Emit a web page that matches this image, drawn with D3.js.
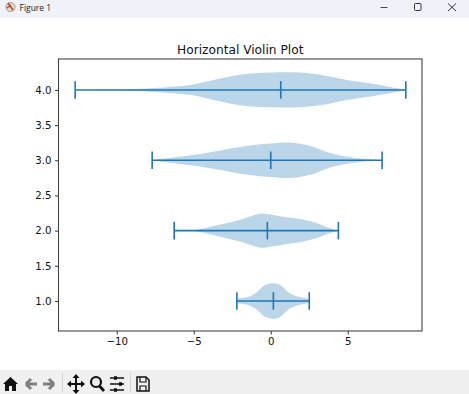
<!DOCTYPE html>
<html lang="en">
  <head>
    <meta charset="utf-8">
    <title>Horizontal Violin Plot</title>
    <style>
      html, body { margin: 0; padding: 0; background: #fff; overflow: hidden; }
      svg { display: block; }
    </style>
  </head>
  <body>
    <div id="chart-area"></div>
    <script src="https://cdn.jsdelivr.net/npm/d3@7"></script>
    <script>
      const positions = [1, 2, 3, 4];
      const medians = [0.17, -0.22, 0.0, 0.65];
      const mins = [-2.2, -6.27, -7.7, -12.7];
      const maxs = [2.5, 4.39, 7.23, 8.77];

      // value along x / relative width (1 = widest part) of each violin
      const values_1 = [-2.2, -1.5, -0.9, -0.45, 0.0, 0.3, 0.6, 1.2, 1.9, 2.5];
      const widths_1 = [0.14, 0.22, 0.5, 0.86, 1.0, 1.0, 0.92, 0.46, 0.22, 0.11];
      const values_2 = [-6.27, -5.0, -3.5, -2.0, -1.0, -0.6, 0.15, 1.05, 1.9, 3.0, 3.85, 4.39];
      const widths_2 = [0.0, 0.02, 0.3, 0.62, 0.9, 0.98, 0.89, 0.76, 0.66, 0.42, 0.13, 0.0];
      const values_3 = [-7.7, -7.3, -4.6, -2.0, 0.0, 1.45, 2.8, 3.85, 5.4, 7.23];
      const widths_3 = [0.0, 0.06, 0.36, 0.76, 0.95, 1.0, 0.76, 0.41, 0.14, 0.0];
      const values_4 = [-12.7, -9.46, -7.5, -5.24, -4.27, -2.0, 0.0, 1.45, 3.2, 4.95, 6.45, 7.75, 8.77];
      const widths_4 = [0.0, 0.03, 0.11, 0.28, 0.46, 0.87, 0.99, 1.0, 0.87, 0.57, 0.38, 0.17, 0.01];
      const all_values = [values_1, values_2, values_3, values_4];
      const all_widths = [widths_1, widths_2, widths_3, widths_4];

      const x_ticks = [-10, -5, 0, 5];
      const y_ticks = [1.0, 1.5, 2.0, 2.5, 3.0, 3.5, 4.0];
      const title_text = 'Horizontal Violin Plot';

      const svg_width = 469;
      const svg_height = 394;
      const ax_left = 58.5, ax_right = 422, ax_top = 59, ax_bottom = 331;
      const blue = '#1f77b4';
      const font = '"DejaVu Sans", sans-serif';

      const svg = d3.select('#chart-area')
        .append('svg')
        .attr('width', svg_width)
        .attr('height', svg_height);

      // window title bar
      svg.append('rect').attr('width', svg_width).attr('height', 18).attr('fill', '#eff3f9');
      svg.append('circle').attr('cx', 10.5).attr('cy', 7).attr('r', 4.5).attr('fill', '#e9dcc8').attr('stroke', '#999');
      svg.append('path').attr('d', 'M8 3L13 10M7 8L11 5').attr('stroke', '#b5482c').attr('stroke-width', 1.5);
      svg.append('text').text('Figure 1').attr('x', 19.5).attr('y', 10.5)
        .attr('font-family', '"Open Sans", sans-serif').attr('font-size', 8.5).attr('fill', '#222');
      svg.append('path').attr('d', 'M380.5 7.5H387.5').attr('stroke', '#444').attr('fill', 'none');
      svg.append('rect').attr('x', 414.5).attr('y', 3.5).attr('width', 6.5).attr('height', 7).attr('rx', 1)
        .attr('stroke', '#333').attr('fill', 'none');
      svg.append('path').attr('d', 'M448 3.5L456 11M456 3.5L448 11').attr('stroke', '#333').attr('fill', 'none');

      // toolbar
      svg.append('rect').attr('y', 370).attr('width', svg_width).attr('height', 24).attr('fill', '#f0f0f0');
      const tb = svg.append('g');
      tb.append('path').attr('d', 'M3 384L10.5 377L18 384L16 384L16 391L12 391L12 386L9 386L9 391L5 391L5 384Z').attr('fill', '#111');
      tb.append('path').attr('d', 'M26 384L31 379M26 384L31 389M26 384L37 384').attr('stroke', '#808080').attr('stroke-width', 3).attr('fill', 'none');
      tb.append('path').attr('d', 'M54 384L49 379M54 384L49 389M54 384L43 384').attr('stroke', '#808080').attr('stroke-width', 3).attr('fill', 'none');
      tb.append('path').attr('d', 'M76 376V392M68 384H84').attr('stroke', '#111').attr('stroke-width', 2).attr('fill', 'none');
      tb.append('path').attr('d', 'M76 374L72.5 378H79.5ZM76 394L72.5 390H79.5ZM67 384L71 380.5V387.5ZM85 384L81 380.5V387.5Z').attr('fill', '#111');
      tb.append('circle').attr('cx', 96).attr('cy', 382).attr('r', 5).attr('stroke', '#111').attr('stroke-width', 2.2).attr('fill', 'none');
      tb.append('path').attr('d', 'M99.5 386L104 391').attr('stroke', '#111').attr('stroke-width', 2.8);
      tb.append('path').attr('d', 'M110 378H124M110 384H124M110 390H124').attr('stroke', '#111').attr('stroke-width', 1.3);
      tb.append('path').attr('d', 'M114 378h3M119 384h3M114 390h3').attr('stroke', '#111').attr('stroke-width', 3.5);
      tb.append('path').attr('d', 'M137 377H146L149 380V391H137Z').attr('stroke', '#111').attr('stroke-width', 1.5).attr('fill', 'none');
      tb.append('path').attr('d', 'M140 377V382H146V377M140 391V386H146V391').attr('stroke', '#111').attr('stroke-width', 1.2).attr('fill', 'none');
      tb.append('path').attr('d', 'M62.5 373V392M130.5 373V392').attr('stroke', '#d4d4d4').attr('stroke-width', 1);

      const x_scale = d3.scaleLinear().domain([-13.78, 9.82]).range([ax_left, ax_right]);
      const y_scale = d3.scaleLinear().domain([0.573, 4.44]).range([ax_bottom, ax_top]);

      // bodies, 1 relative width unit is a quarter of a y unit each way
      const half = 0.25;
      positions.forEach((pos, i) => {
        const pts = all_values[i].map((v, j) => ({ v: v, w: all_widths[i][j] }));
        const area = d3.area()
          .x(d => x_scale(d.v))
          .y0(d => y_scale(pos - d.w * half))
          .y1(d => y_scale(pos + d.w * half))
          .curve(d3.curveCatmullRom.alpha(0.5));
        svg.append('path')
          .datum(pts)
          .attr('d', area)
          .attr('fill', blue)
          .attr('fill-opacity', 0.3);
      });

      // bars and caps
      const cap = 0.125;
      const lines = svg.append('g').attr('stroke', blue).attr('stroke-width', 1.6);
      lines.selectAll('.bar').data(positions).enter().append('line')
        .attr('class', 'bar')
        .attr('x1', (d, i) => x_scale(mins[i]))
        .attr('x2', (d, i) => x_scale(maxs[i]))
        .attr('y1', d => y_scale(d))
        .attr('y2', d => y_scale(d));
      [mins, medians, maxs].forEach(arr => {
        lines.selectAll(null).data(positions).enter().append('line')
          .attr('x1', (d, i) => x_scale(arr[i]))
          .attr('x2', (d, i) => x_scale(arr[i]))
          .attr('y1', d => y_scale(d - cap))
          .attr('y2', d => y_scale(d + cap));
      });

      // axes
      const x_axis = d3.axisBottom(x_scale).tickValues(x_ticks).tickSize(3.5).tickPadding(3.5)
        .tickFormat(d => String(d).replace('-', '\u2212'));
      const y_axis = d3.axisLeft(y_scale).tickValues(y_ticks).tickSize(3.5).tickPadding(3.5)
        .tickFormat(d3.format('.1f'));
      const gx = svg.append('g').attr('transform', `translate(0,${ax_bottom})`).call(x_axis);
      const gy = svg.append('g').attr('transform', `translate(${ax_left},0)`).call(y_axis);
      [gx, gy].forEach(g => {
        g.select('.domain').remove();
        g.selectAll('.tick line').attr('stroke', '#333').attr('stroke-width', 1);
        g.selectAll('text').attr('font-family', font).attr('font-size', 10.2).attr('fill', '#111');
      });

      svg.append('rect')
        .attr('x', ax_left).attr('y', ax_top)
        .attr('width', ax_right - ax_left).attr('height', ax_bottom - ax_top)
        .attr('fill', 'none').attr('stroke', '#444').attr('stroke-width', 1.1);

      svg.append('text').text(title_text)
        .attr('x', (ax_left + ax_right) / 2).attr('y', 54)
        .attr('text-anchor', 'middle')
        .attr('font-family', font).attr('font-size', 12.2).attr('fill', '#111');
    </script>
  </body>
</html>
